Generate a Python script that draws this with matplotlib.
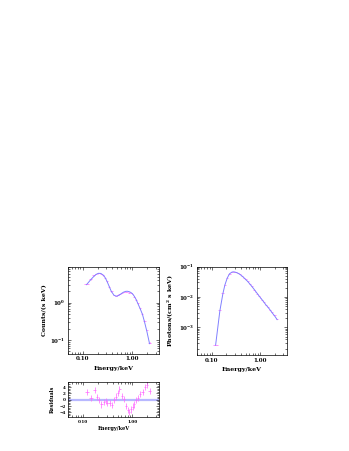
import matplotlib
matplotlib.use("Agg")
import matplotlib.pyplot as plt
from matplotlib.ticker import FixedLocator, LogLocator, NullFormatter, AutoMinorLocator
import numpy as np

# spectrum bins (keV)
energy = [0.12, 0.147, 0.17, 0.187, 0.209, 0.233, 0.263, 0.285, 0.309, 0.343,
          0.377, 0.427, 0.468, 0.505, 0.546, 0.62, 0.668, 0.746, 0.80, 0.87,
          0.94, 1.01, 1.1, 1.2, 1.3, 1.45, 1.61, 1.77, 1.98, 2.24]
# folded counts
counts_model = [3.05, 4.2, 5.15, 5.75, 6.15, 6.1, 5.45, 4.7, 3.8, 2.75,
                2.05, 1.6, 1.5, 1.52, 1.6, 1.8, 1.92, 2.02, 2.03, 1.98,
                1.88, 1.75, 1.5, 1.22, 0.96, 0.69, 0.49, 0.31, 0.17, 0.08]
counts_data = [3.2, 4.25, 5.4, 5.8, 6.13, 6.0, 5.4, 4.68, 3.75, 2.72,
               2.0, 1.6, 1.52, 1.57, 1.68, 1.84, 1.93, 1.97, 1.95, 1.88,
               1.8, 1.69, 1.46, 1.22, 0.97, 0.71, 0.51, 0.33, 0.185, 0.085]
counts_err = [0.06, 0.08, 0.08, 0.06, 0.1, 0.07, 0.07, 0.05, 0.05, 0.03,
              0.03, 0.03, 0.02, 0.02, 0.02, 0.03, 0.03, 0.025, 0.025, 0.025,
              0.025, 0.025, 0.027, 0.03, 0.02, 0.012, 0.008, 0.005, 0.003, 0.002]
# residuals (sigma)
resid = [2.4, 0.6, 3.0, 0.9, -0.2, -1.5, -0.7, -0.4, -1.0, -1.0,
         -1.6, -0.1, 1.0, 2.2, 3.5, 1.2, 0.3, -2.0, -3.3, -3.9,
         -3.1, -2.2, -1.5, -0.1, 0.6, 1.7, 2.5, 4.0, 4.6, 2.8]
# unfolded spectrum
photon_model = [2.6e-4, 3.5e-3, 1.3e-2, 2.5e-2, 4.2e-2, 5.8e-2, 6.6e-2, 6.7e-2, 6.5e-2, 6.1e-2,
                5.6e-2, 4.8e-2, 4.2e-2, 3.7e-2, 3.3e-2, 2.6e-2, 2.25e-2, 1.8e-2, 1.55e-2, 1.3e-2,
                1.1e-2, 9.5e-3, 8.0e-3, 6.7e-3, 5.6e-3, 4.6e-3, 3.7e-3, 3.0e-3, 2.4e-3, 1.8e-3]
photon_data = [2.7e-4, 3.6e-3, 1.35e-2, 2.5e-2, 4.2e-2, 5.7e-2, 6.5e-2, 6.7e-2, 6.4e-2, 6.0e-2,
               5.5e-2, 4.8e-2, 4.25e-2, 3.8e-2, 3.45e-2, 2.65e-2, 2.25e-2, 1.75e-2, 1.48e-2, 1.23e-2,
               1.05e-2, 9.2e-3, 7.8e-3, 6.7e-3, 5.65e-3, 4.75e-3, 3.85e-3, 3.2e-3, 2.6e-3, 1.85e-3]

plt.rcParams['font.family'] = 'DejaVu Serif'
plt.rcParams['font.weight'] = 'bold'
plt.rcParams['mathtext.fontset'] = 'dejavuserif'

DATA_C = '#ff66ff'
MODEL_C = '#8080ff'

e = np.array(energy)
edges = np.sqrt(e[1:] * e[:-1])
lo = np.concatenate([[e[0] / (edges[0] / e[0])], edges])
hi = np.concatenate([edges, [e[-1] * (e[-1] / edges[-1])]])
xerr = [e - lo, hi - e]

fig = plt.figure(figsize=(3.49, 4.51), dpi=100)


def style(ax, fs=4):
    ax.tick_params(which='both', direction='in', top=True, right=True,
                   labelsize=fs, width=0.4, pad=2)
    ax.tick_params(which='major', length=2.5)
    ax.tick_params(which='minor', length=1.3)
    for s in ax.spines.values():
        s.set_linewidth(0.5)


def xaxis_log(ax):
    ax.set_xscale('log')
    ax.set_xlim(0.05, 3.5)
    ax.xaxis.set_major_locator(FixedLocator([0.1, 1.0]))
    ax.set_xticklabels(['0.10', '1.00'])
    ax.xaxis.set_minor_locator(LogLocator(base=10, subs=np.arange(2, 10)))
    ax.xaxis.set_minor_formatter(NullFormatter())


# counts panel
ax1 = fig.add_axes([0.194, 0.2157, 0.262, 0.192])
ax1.errorbar(energy, counts_data, yerr=counts_err, xerr=xerr, fmt='none',
             ecolor=DATA_C, elinewidth=0.5)
ax1.plot(energy, counts_model, color=MODEL_C, lw=0.7)
xaxis_log(ax1)
ax1.set_yscale('log')
ax1.set_ylim(0.043, 9)
ax1.yaxis.set_major_locator(FixedLocator([0.1, 1.0]))
ax1.set_yticklabels([r'$10^{-1}$', r'$10^{0}$'])
ax1.yaxis.set_minor_locator(LogLocator(base=10, subs=np.arange(2, 10)))
ax1.yaxis.set_minor_formatter(NullFormatter())
style(ax1)
ax1.set_xlabel('Energy/keV', fontsize=4.5, fontweight='bold', labelpad=3)
ax1.set_ylabel('Counts/(s keV)', fontsize=4.5, fontweight='bold', labelpad=2)

# unfolded panel
ax2 = fig.add_axes([0.565, 0.212, 0.256, 0.197])
ax2.errorbar(energy, photon_data, xerr=xerr, fmt='none',
             ecolor=DATA_C, elinewidth=0.5)
ax2.plot(energy, photon_model, color=MODEL_C, lw=0.7)
xaxis_log(ax2)
ax2.set_yscale('log')
ax2.set_ylim(1.2e-4, 0.1)
ax2.yaxis.set_major_locator(FixedLocator([1e-3, 1e-2, 1e-1]))
ax2.set_yticklabels([r'$10^{-3}$', r'$10^{-2}$', r'$10^{-1}$'])
ax2.yaxis.set_minor_locator(LogLocator(base=10, subs=np.arange(2, 10)))
ax2.yaxis.set_minor_formatter(NullFormatter())
style(ax2)
ax2.set_xlabel('Energy/keV', fontsize=4.5, fontweight='bold', labelpad=3)
ax2.set_ylabel(r'Photons/(cm$^2$ s keV)', fontsize=4.5, fontweight='bold', labelpad=3)

# residuals panel
ax3 = fig.add_axes([0.196, 0.076, 0.260, 0.0776])
ax3.axhline(0, color='#b8b8ff', lw=1.6, zorder=1)
ax3.errorbar(energy, resid, yerr=1.0, xerr=xerr, fmt='none',
             ecolor=DATA_C, elinewidth=0.5, zorder=2)
xaxis_log(ax3)
ax3.set_ylim(-5.4, 5.7)
ax3.set_yticks([-4, -2, 0, 2, 4])
ax3.yaxis.set_minor_locator(AutoMinorLocator(4))
style(ax3, fs=3)
ax3.set_xlabel('Energy/keV', fontsize=3.6, fontweight='bold', labelpad=1.5)
ax3.set_ylabel('Residuals', fontsize=3.6, fontweight='bold', labelpad=3)

fig.savefig('out.png', dpi=100)
